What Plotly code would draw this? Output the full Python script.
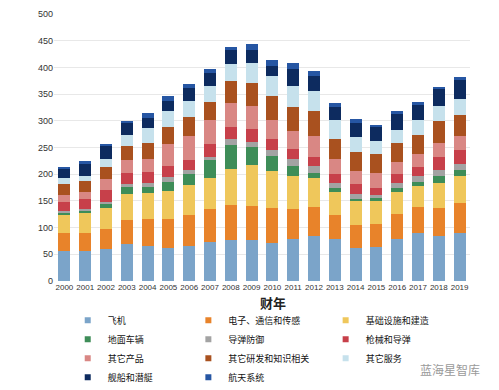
import plotly.graph_objects as go

years = [str(y) for y in range(2000, 2020)]

names = ["飞机", "电子、通信和传感", "基础设施和建造", "地面车辆", "导弹防御", "枪械和导弹",
         "其它产品", "其它研发和知识相关", "其它服务", "舰船和潜艇", "航天系统"]

aircraft   = [56, 56, 59, 69, 65, 61, 66, 73, 77, 76, 71, 78, 84, 78, 61, 64, 79, 89, 85, 89]
electronic = [34, 34, 38, 45, 52, 55, 58, 62, 66, 65, 65, 56, 54, 45, 44, 43, 46, 49, 51, 57]
infra      = [34, 37, 40, 48, 48, 52, 56, 57, 66, 77, 70, 63, 55, 43, 46, 42, 41, 40, 48, 51]
ground     = [4, 5, 8, 14, 11, 18, 21, 34, 46, 33, 28, 19, 10, 8, 3, 6, 8, 8, 12, 11]
missile_def= [3, 3, 3, 5, 8, 8, 7, 7, 11, 10, 12, 12, 13, 10, 9, 6, 9, 10, 12, 11]
weapons    = [17, 18, 23, 21, 20, 22, 19, 24, 23, 23, 20, 19, 17, 17, 18, 13, 18, 17, 24, 27]
other_prod = [13, 14, 20, 24, 24, 41, 45, 44, 45, 44, 35, 34, 39, 28, 25, 28, 22, 25, 26, 25]
other_rd   = [21, 20, 23, 26, 30, 32, 35, 35, 40, 43, 45, 44, 46, 37, 35, 36, 35, 36, 41, 40]
other_srv  = [10, 10, 15, 21, 28, 30, 31, 30, 32, 37, 37, 41, 37, 35, 28, 25, 25, 28, 28, 30]
ships      = [17, 23, 23, 23, 19, 19, 23, 23, 26, 25, 20, 31, 29, 25, 27, 26, 30, 28, 32, 35]
space      = [4, 5, 5, 4, 9, 8, 8, 8, 7, 10, 10, 12, 9, 7, 7, 3, 5, 5, 5, 6]

series = [aircraft, electronic, infra, ground, missile_def, weapons,
          other_prod, other_rd, other_srv, ships, space]
colors = ["#7BA4C9", "#E8832A", "#EFC75B", "#3E8D58", "#A3A3A3", "#C7404A",
          "#D98784", "#A9511F", "#C6E1EC", "#0D2B5F", "#2656A3"]
legend_of = ["legend", "legend2", "legend3", "legend", "legend2", "legend3",
             "legend", "legend2", "legend3", "legend", "legend2"]

fig = go.Figure()
for name, vals, col in zip(names, series, colors):
    fig.add_trace(go.Bar(x=years, y=vals, name=name, marker_color=col,
                         marker_line_width=0, showlegend=False))
# small square legend keys
for name, col, lg in zip(names, colors, legend_of):
    fig.add_trace(go.Scatter(x=[None], y=[None], mode="markers", name=name,
                             marker=dict(symbol="square", size=6, color=col),
                             legend=lg, showlegend=True, hoverinfo="skip"))

leg_common = dict(orientation="v", bgcolor="rgba(0,0,0,0)", itemwidth=30,
                  font=dict(family="Noto Sans CJK SC", size=9, color="#111"),
                  yanchor="top", y=-0.093, xanchor="left", traceorder="normal")

fig.update_layout(
    width=491, height=382,
    margin=dict(l=46, r=29, t=6, b=109, autoexpand=False),
    paper_bgcolor="white", plot_bgcolor="white",
    barmode="stack", bargap=0.42,
    font=dict(family="Liberation Sans, Arial", size=9, color="#555"),
    xaxis=dict(type="category", showgrid=False, showline=False, ticks="",
               tickangle=0, tickfont=dict(size=8, color="#333")),
    yaxis=dict(range=[0, 500], dtick=50, showgrid=True, gridcolor="#E8E8E8",
               gridwidth=1, zeroline=False, showline=False, ticks="",
               tickfont=dict(size=9, color="#333")),
    legend=dict(**leg_common, x=0.033),
    legend2=dict(**leg_common, x=0.323),
    legend3=dict(**leg_common, x=0.653),
    annotations=[
        dict(text="<b>财年</b>", x=0.526, y=-0.079, xref="paper", yref="paper",
             showarrow=False, font=dict(family="Noto Sans CJK SC", size=13, color="#222"),
             xanchor="center", yanchor="middle"),
        dict(text="蓝海星智库", x=1.03, y=-0.33, xref="paper", yref="paper",
             showarrow=False, font=dict(family="Noto Sans CJK SC", size=12, color="#9A9A9A"),
             xanchor="right", yanchor="middle"),
    ],
)

fig.write_html("out.html")
